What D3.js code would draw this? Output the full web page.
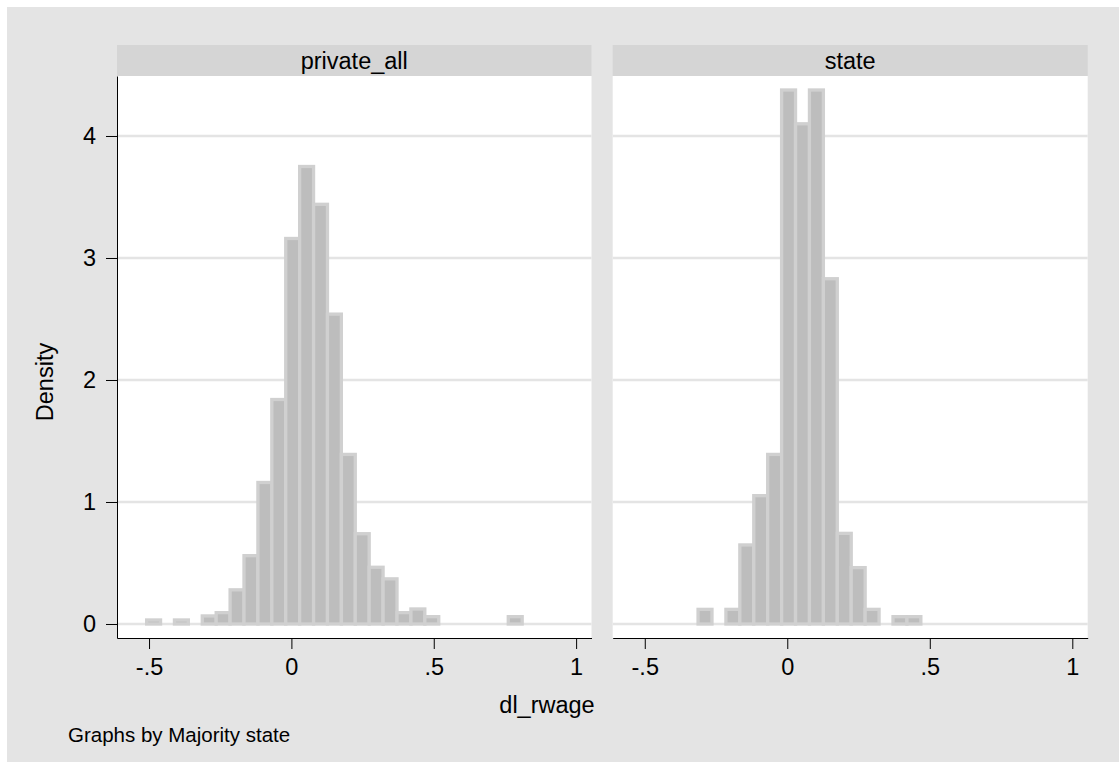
<!DOCTYPE html>
<html>
<head>
<meta charset="utf-8">
<script src="https://cdn.jsdelivr.net/npm/d3@7"></script>
<style>
  body { margin: 0; background: #fff; }
  svg { display: block; font-family: "Liberation Sans", Arial, sans-serif; }
</style>
</head>
<body>
<svg width="1119" height="762"></svg>
<script>
// histogram bins (shared by both panels)
const binStart = -0.5084;
const binWidth = 0.04885;
const binCount = 27;

// density per bin
const privateDensity = [0.033, 0, 0.033, 0, 0.066, 0.093, 0.28, 0.56, 1.16, 1.84, 3.16, 3.75, 3.44, 2.54,
                        1.39, 0.74, 0.465, 0.37, 0.093, 0.123, 0.06, 0, 0, 0, 0, 0, 0.06];
const stateDensity   = [0, 0, 0, 0, 0.12, 0, 0.12, 0.648, 1.052, 1.39, 4.377, 4.10, 4.377, 2.83,
                        0.743, 0.462, 0.12, 0, 0.06, 0.06, 0, 0, 0, 0, 0, 0, 0];

const panelNames = ["private_all", "state"];
const xTicks = [-0.5, 0, 0.5, 1];
const xTickLabels = ["-.5", "0", ".5", "1"];
const yTicks = [0, 1, 2, 3, 4];

let svg = d3.select("svg");

// graph background
svg.append("rect")
  .attr("x", 7).attr("y", 7)
  .attr("width", 1112).attr("height", 755)
  .attr("fill", "#e4e4e4");

const plotTop = 76, plotBottom = 638, stripTop = 45;
const panelX = [[117, 591.5], [612.7, 1087.7]];

let yScale = d3.scaleLinear()
  .domain([-0.1148, 4.4918])
  .range([plotBottom, plotTop]);

const fontSize = 23.5;

[privateDensity, stateDensity].forEach(function(dens, p) {
  let x0 = panelX[p][0], x1 = panelX[p][1];
  let xScale = d3.scaleLinear()
    .domain([-0.6125, 1.054])
    .range([x0, x1]);

  let g = svg.append("g");

  // strip with the group name
  g.append("rect")
    .attr("x", x0).attr("y", stripTop)
    .attr("width", x1 - x0).attr("height", plotTop - stripTop)
    .attr("fill", "#d5d5d5");
  g.append("text")
    .attr("x", (x0 + x1) / 2).attr("y", (stripTop + plotTop) / 2)
    .attr("dy", "0.35em")
    .attr("text-anchor", "middle")
    .style("font-size", fontSize + "px")
    .text(panelNames[p]);

  // plot region
  g.append("rect")
    .attr("x", x0).attr("y", plotTop)
    .attr("width", x1 - x0).attr("height", plotBottom - plotTop)
    .attr("fill", "#fff");

  // grid
  g.selectAll(".grid")
    .data(yTicks)
    .enter().append("line")
    .attr("x1", x0).attr("x2", x1)
    .attr("y1", d => yScale(d)).attr("y2", d => yScale(d))
    .attr("stroke", "#e4e4e4")
    .attr("stroke-width", 2.7);

  let bins = d3.range(binCount).map(i => ({
    lo: binStart + i * binWidth,
    hi: binStart + (i + 1) * binWidth,
    d: dens[i]
  })).filter(b => b.d > 0);

  g.selectAll(".bar")
    .data(bins)
    .enter().append("rect")
    .attr("x", b => xScale(b.lo))
    .attr("width", b => xScale(b.hi) - xScale(b.lo))
    .attr("y", b => yScale(b.d))
    .attr("height", b => yScale(0) - yScale(b.d))
    .attr("fill", "#bdbdbd")
    .attr("stroke", "#d0d0d0")
    .attr("stroke-width", 3.3);

  // x axis
  let xAxis = d3.axisBottom(xScale)
    .tickValues(xTicks)
    .tickFormat((d, i) => xTickLabels[i])
    .tickSize(11).tickSizeOuter(0).tickPadding(9);
  let ax = g.append("g")
    .attr("transform", "translate(0," + plotBottom + ")")
    .call(xAxis);
  ax.selectAll("text").style("font-size", fontSize + "px").attr("fill", "#000");
  ax.selectAll("line,path").attr("stroke", "#000");

  if (p === 0) {
    let yAxis = d3.axisLeft(yScale)
      .tickValues(yTicks)
      .tickFormat(d3.format("d"))
      .tickSize(11).tickSizeOuter(0).tickPadding(10);
    let ay = g.append("g")
      .attr("transform", "translate(" + x0 + ",0)")
      .call(yAxis);
    ay.selectAll("text").style("font-size", fontSize + "px").attr("fill", "#000");
    ay.selectAll("line,path").attr("stroke", "#000");
  }
});

// titles
svg.append("text")
  .attr("transform", "translate(45,382) rotate(-90)")
  .attr("dy", "0.35em")
  .attr("text-anchor", "middle")
  .style("font-size", fontSize + "px")
  .text("Density");

svg.append("text")
  .attr("x", 547).attr("y", 705)
  .attr("dy", "0.35em")
  .attr("text-anchor", "middle")
  .style("font-size", fontSize + "px")
  .text("dl_rwage");

svg.append("text")
  .attr("x", 68).attr("y", 735)
  .attr("dy", "0.35em")
  .style("font-size", "20.5px")
  .text("Graphs by Majority state");
</script>
</body>
</html>
